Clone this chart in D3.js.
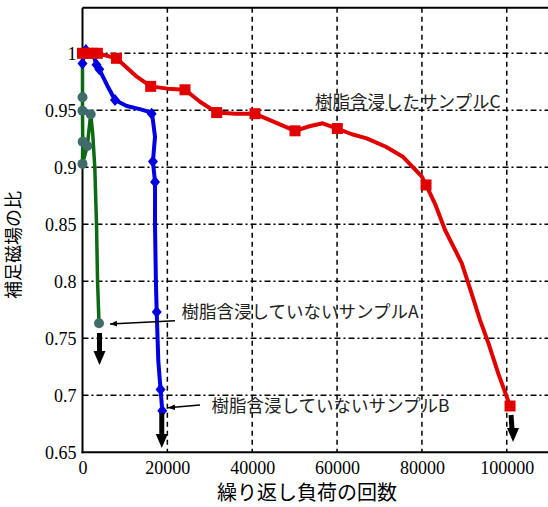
<!DOCTYPE html>
<html><head><meta charset="utf-8">
<script src="https://cdn.jsdelivr.net/npm/d3@7"></script>
<style>body{margin:0;background:#fff}svg{display:block}</style>
</head><body>
<svg id="c" width="548" height="507"></svg>
<script>
// ---- data ----
const xTicks = [0, 20000, 40000, 60000, 80000, 100000];
const yTicks = [0.65, 0.7, 0.75, 0.8, 0.85, 0.9, 0.95, 1.0];
const xTitle = "繰り返し負荷の回数";
const yTitle = "補足磁場の比";

// Sample C (resin impregnated) — curve and markers
const lineC = [[0,1.0],[1200,1.0],[2400,1.0],[3500,1.0],[8000,0.9956],[12800,0.9795],[16070,0.971],[20000,0.969],[24160,0.968],[27700,0.9575],[31630,0.948],[36000,0.947],[40660,0.947],[45000,0.94],[50090,0.932],[53500,0.936],[56600,0.9386],[60060,0.934],[63500,0.929],[67000,0.9254],[71500,0.918],[75600,0.909],[79950,0.892],[80970,0.8845],[83090,0.868],[85450,0.845],[89380,0.816],[91740,0.789],[93700,0.766],[95650,0.746],[98010,0.719],[100770,0.6906]];
const markC = [[0,1.0],[1200,1.0],[2400,1.0],[3500,1.0],[8000,0.9956],[16070,0.971],[24160,0.968],[31630,0.948],[40660,0.947],[50090,0.932],[60060,0.934],[80970,0.8845],[100770,0.6906]];

// Sample B (not impregnated)
const lineB = [[0,0.991],[500,1.003],[1500,1.002],[2550,0.9985],[3300,0.99],[3960,0.986],[5800,0.972],[7660,0.959],[10420,0.9538],[13500,0.951],[15510,0.9488],[16300,0.947],[16540,0.943],[17090,0.9268],[16600,0.905],[17100,0.887],[17090,0.85],[17300,0.80],[17490,0.773],[17870,0.73],[18400,0.705],[18800,0.6865]];
const markB = [[0,0.991],[800,1.003],[3300,0.99],[3960,0.986],[7660,0.959],[16300,0.947],[16600,0.905],[17100,0.887],[17490,0.773],[18400,0.705],[18800,0.6865]];

// Sample A (not impregnated)
const lineA = [[0,1.0],[0,0.9614],[0,0.9496],[50,0.9225],[0,0.903],[1130,0.9187],[1930,0.9465],[2400,0.93],[2900,0.90],[3300,0.85],[3550,0.80],[3890,0.7632]];
const markA = [[0,0.9614],[0,0.9496],[1930,0.9465],[50,0.9225],[1130,0.9187],[0,0.903],[3890,0.7632]];

const labelC = "樹脂含浸したサンプルC";
const labelA = "樹脂含浸していないサンプルA";
const labelB = "樹脂含浸していないサンプルB";

// ---- drawing ----
const svg = d3.select("#c");
const x = d3.scaleLinear().domain([0, 110000]).range([82.5, 549.2]);
const y = d3.scaleLinear().domain([0.65, 1.04]).range([452.3, 7.7]);
const X0 = x(0), X1 = 548, Y0 = y(0.65), Y1 = y(1.04);

const defs = svg.append("defs");
defs.append("marker").attr("id","ah").attr("viewBox","0 0 10 10").attr("refX",10).attr("refY",5)
  .attr("markerWidth",7).attr("markerHeight",7).attr("markerUnits","userSpaceOnUse").attr("orient","auto")
  .append("path").attr("d","M0,1L10,5L0,9Z").attr("fill","#000");

// gridlines
const grid = svg.append("g");
grid.selectAll("line.h").data(yTicks.filter(d => d > 0.66)).join("line")
  .attr("x1", X0).attr("x2", X1).attr("y1", d => y(d)).attr("y2", d => y(d))
  .attr("stroke","#000").attr("stroke-width",1.5).attr("stroke-dasharray","6,3,2,3");
grid.selectAll("line.v").data(xTicks.filter(d => d > 0)).join("line")
  .attr("x1", d => x(d)).attr("x2", d => x(d)).attr("y1", Y1).attr("y2", Y0)
  .attr("stroke","#000").attr("stroke-width",1.5).attr("stroke-dasharray","5,4");

// frame
svg.append("line").attr("x1",X0).attr("x2",X1).attr("y1",Y1).attr("y2",Y1).attr("stroke","#000").attr("stroke-width",2);
svg.append("line").attr("x1",X0).attr("x2",X0).attr("y1",Y1).attr("y2",Y0+1).attr("stroke","#000").attr("stroke-width",2);
svg.append("line").attr("x1",X0-1).attr("x2",X1).attr("y1",Y0).attr("y2",Y0).attr("stroke","#000").attr("stroke-width",2);

// axes (labels only)
const ax = svg.append("g").attr("transform",`translate(0,${Y0})`)
  .call(d3.axisBottom(x).tickValues(xTicks).tickSize(0).tickPadding(9).tickFormat(d => String(d)));
const ay = svg.append("g").attr("transform",`translate(${X0},0)`)
  .call(d3.axisLeft(y).tickValues(yTicks).tickSize(0).tickPadding(6).tickFormat(d => String(+d.toFixed(2))));
[ax, ay].forEach(g => {
  g.select(".domain").remove();
  g.selectAll("text").attr("font-family","'Liberation Serif','Times New Roman',serif").attr("font-size",18).attr("fill","#000");
});

const line = d3.line().x(d => x(d[0])).y(d => y(d[1])).curve(d3.curveLinear);

// Sample A
svg.append("path").attr("d", line(lineA)).attr("fill","none").attr("stroke","#0b6a12").attr("stroke-width",3.5).attr("stroke-linejoin","round");
svg.selectAll("circle.a").data(markA).join("circle")
  .attr("cx", d => x(d[0])).attr("cy", d => y(d[1])).attr("r", 5).attr("fill","#3f6b6b");

// Sample B
svg.append("path").attr("d", line(lineB)).attr("fill","none").attr("stroke","#0000e0").attr("stroke-width",4).attr("stroke-linejoin","round");
svg.selectAll("path.b").data(markB).join("path")
  .attr("transform", d => `translate(${x(d[0])},${y(d[1])})`)
  .attr("d","M0,-6L5,0L0,6L-5,0Z").attr("fill","#0000e0");

// Sample C
svg.append("path").attr("d", line(lineC)).attr("fill","none").attr("stroke","#e00000").attr("stroke-width",4).attr("stroke-linejoin","round");
svg.selectAll("rect.c").data(markC).join("rect")
  .attr("x", d => x(d[0]) - 5.5).attr("y", d => y(d[1]) - 5.5).attr("width",11).attr("height",11).attr("fill","#e00000");

// labels
const jp = "'Noto Sans CJK JP','Noto Sans',sans-serif";
const lab = (t, px, py) => svg.append("text").attr("x",px).attr("y",py).text(t)
  .attr("font-family", jp).attr("font-size",17.5).attr("fill","#222");
lab(labelC, 315, 108.3);
lab(labelA, 181.5, 318.3);
lab(labelB, 211.5, 411.6);

// pointer arrows
svg.append("line").attr("x1",175).attr("y1",320.7).attr("x2",110).attr("y2",324)
  .attr("stroke","#000").attr("stroke-width",1.5).attr("marker-end","url(#ah)");
svg.append("line").attr("x1",200).attr("y1",405).attr("x2",168).attr("y2",407.8)
  .attr("stroke","#000").attr("stroke-width",1.5).attr("marker-end","url(#ah)");

// down arrows (failure)
const down = (px, top, tip, dx) => {
  const g = svg.append("g");
  g.append("line").attr("x1",px).attr("y1",top).attr("x2",px+dx*0.6).attr("y2",tip-10)
    .attr("stroke","#000").attr("stroke-width",5);
  const bx = px + dx;
  g.append("path").attr("d",`M${bx-6},${tip-14}L${bx+6},${tip-14}L${bx},${tip}Z`).attr("fill","#000");
};
down(x(3890)+0.5, 333, 365, 0);
down(x(18800)-0.5, 413, 448, 0);
down(x(100770)+1, 415, 442, 2);

// axis titles
svg.append("text").attr("x",217).attr("y",500).text(xTitle)
  .attr("font-family", jp).attr("font-size",20).attr("fill","#000");
svg.append("text").attr("transform","translate(20,245) rotate(-90)").attr("text-anchor","middle").text(yTitle)
  .attr("font-family", jp).attr("font-size",18).attr("fill","#000");
</script>
</body></html>
